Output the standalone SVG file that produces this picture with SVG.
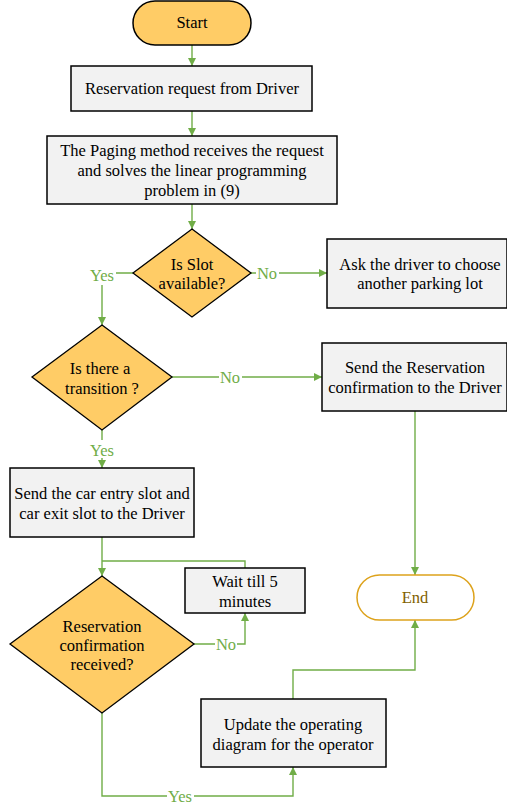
<svg xmlns="http://www.w3.org/2000/svg" width="507" height="805" viewBox="0 0 507 805">
<style>
.box{fill:#F2F2F2;stroke:#000;stroke-width:1.5}
.dec{fill:#FFCC66;stroke:#000;stroke-width:1.3}
.t{font-family:"Liberation Serif","Times New Roman",serif;font-size:16.5px;fill:#000;text-anchor:middle;dominant-baseline:central}
.lbl{font-family:"Liberation Serif","Times New Roman",serif;font-size:16.5px;fill:#70AD47;text-anchor:middle;dominant-baseline:central}
.c{fill:none;stroke:#70AD47;stroke-width:1.4}
</style>
<defs>
<marker id="ah" viewBox="0 0 10 10" refX="10" refY="5" markerWidth="8" markerHeight="8" markerUnits="userSpaceOnUse" orient="auto">
<path d="M0,0 L10,5 L0,10 z" fill="#70AD47"/>
</marker>
</defs>
<rect width="507" height="805" fill="#fff"/>
<g id="connectors">
<path class="c" d="M192,45 V66" marker-end="url(#ah)"/>
<path class="c" d="M192,111 V136" marker-end="url(#ah)"/>
<path class="c" d="M192,204 V229" marker-end="url(#ah)"/>
<path class="c" d="M251,273 H327" marker-end="url(#ah)"/>
<path class="c" d="M133,273 H102 V325" marker-end="url(#ah)"/>
<path class="c" d="M172,377 H322" marker-end="url(#ah)"/>
<path class="c" d="M102,430 V468" marker-end="url(#ah)"/>
<path class="c" d="M415,411 V575" marker-end="url(#ah)"/>
<path class="c" d="M102,537 V576" marker-end="url(#ah)"/>
<path class="c" d="M245,568 V561 H102"/>
<path class="c" d="M194,644 H245 V613" marker-end="url(#ah)"/>
<path class="c" d="M102,713 V796 H293 V767" marker-end="url(#ah)"/>
<path class="c" d="M293,699 V670 H415 V620" marker-end="url(#ah)"/>
<g>
<rect x="89" y="265" width="27" height="20" fill="#fff"/>
<text class="lbl" x="102" y="275">Yes</text>
<rect x="256" y="264" width="23" height="18" fill="#fff"/>
<text class="lbl" x="267" y="273">No</text>
<rect x="219" y="368" width="23" height="18" fill="#fff"/>
<text class="lbl" x="230" y="377">No</text>
<rect x="89" y="440" width="27" height="18" fill="#fff"/>
<text class="lbl" x="102" y="450">Yes</text>
<rect x="215" y="635" width="22" height="18" fill="#fff"/>
<text class="lbl" x="226" y="644">No</text>
<rect x="167" y="787" width="27" height="18" fill="#fff"/>
<text class="lbl" x="180" y="796">Yes</text>
</g>
</g>
<g id="start">
<rect x="133" y="1" width="118" height="44" rx="22" ry="22" fill="#FFCC66" stroke="#000" stroke-width="1.5"/>
<text class="t" x="192" y="22">Start</text>
</g>
<g id="request">
<rect class="box" x="71" y="66" width="241" height="45"/>
<text class="t" x="192" y="88">Reservation request from Driver</text>
</g>
<g id="paging">
<rect class="box" x="47" y="136" width="290" height="68"/>
<text class="t" x="192" y="150">The Paging method receives the request</text>
<text class="t" x="192" y="170">and solves the linear programming</text>
<text class="t" x="192" y="190">problem in (9)</text>
</g>
<g id="slot">
<polygon class="dec" points="192,229 251,273 192,317 133,273"/>
<text class="t" x="192" y="264">Is Slot</text>
<text class="t" x="192" y="283">available?</text>
</g>
<g id="ask">
<rect class="box" x="327" y="239" width="180" height="69"/>
<text class="t" x="420" y="264">Ask the driver to choose</text>
<text class="t" x="420" y="283">another parking lot</text>
</g>
<g id="transition">
<polygon class="dec" points="102,325 172,377 102,430 32,377"/>
<text class="t" x="100" y="368">Is there a</text>
<text class="t" x="102" y="388">transition ?</text>
</g>
<g id="sendconf">
<rect class="box" x="322" y="343" width="185" height="68"/>
<text class="t" x="415" y="367">Send the Reservation</text>
<text class="t" x="415" y="387">confirmation to the Driver</text>
</g>
<g id="sendslots">
<rect class="box" x="10" y="468" width="184" height="69"/>
<text class="t" x="102" y="493">Send the car entry slot and</text>
<text class="t" x="102" y="513">car exit slot to the Driver</text>
</g>
<g id="wait">
<rect class="box" x="185" y="568" width="120" height="45"/>
<text class="t" x="245" y="581">Wait till 5</text>
<text class="t" x="245" y="601">minutes</text>
</g>
<g id="received">
<polygon class="dec" points="102,576 194,644 102,713 10,644"/>
<text class="t" x="102" y="626">Reservation</text>
<text class="t" x="102" y="645">confirmation</text>
<text class="t" x="102" y="664">received?</text>
</g>
<g id="end">
<rect x="357" y="575" width="117" height="45" rx="22.5" ry="22.5" fill="#fff" stroke="#DDA21B" stroke-width="1.5"/>
<text class="t" x="415" y="597" style="fill:#7F6000">End</text>
</g>
<g id="update">
<rect class="box" x="201" y="699" width="185" height="68"/>
<text class="t" x="293" y="724">Update the operating</text>
<text class="t" x="293" y="744">diagram for the operator</text>
</g>
</svg>
